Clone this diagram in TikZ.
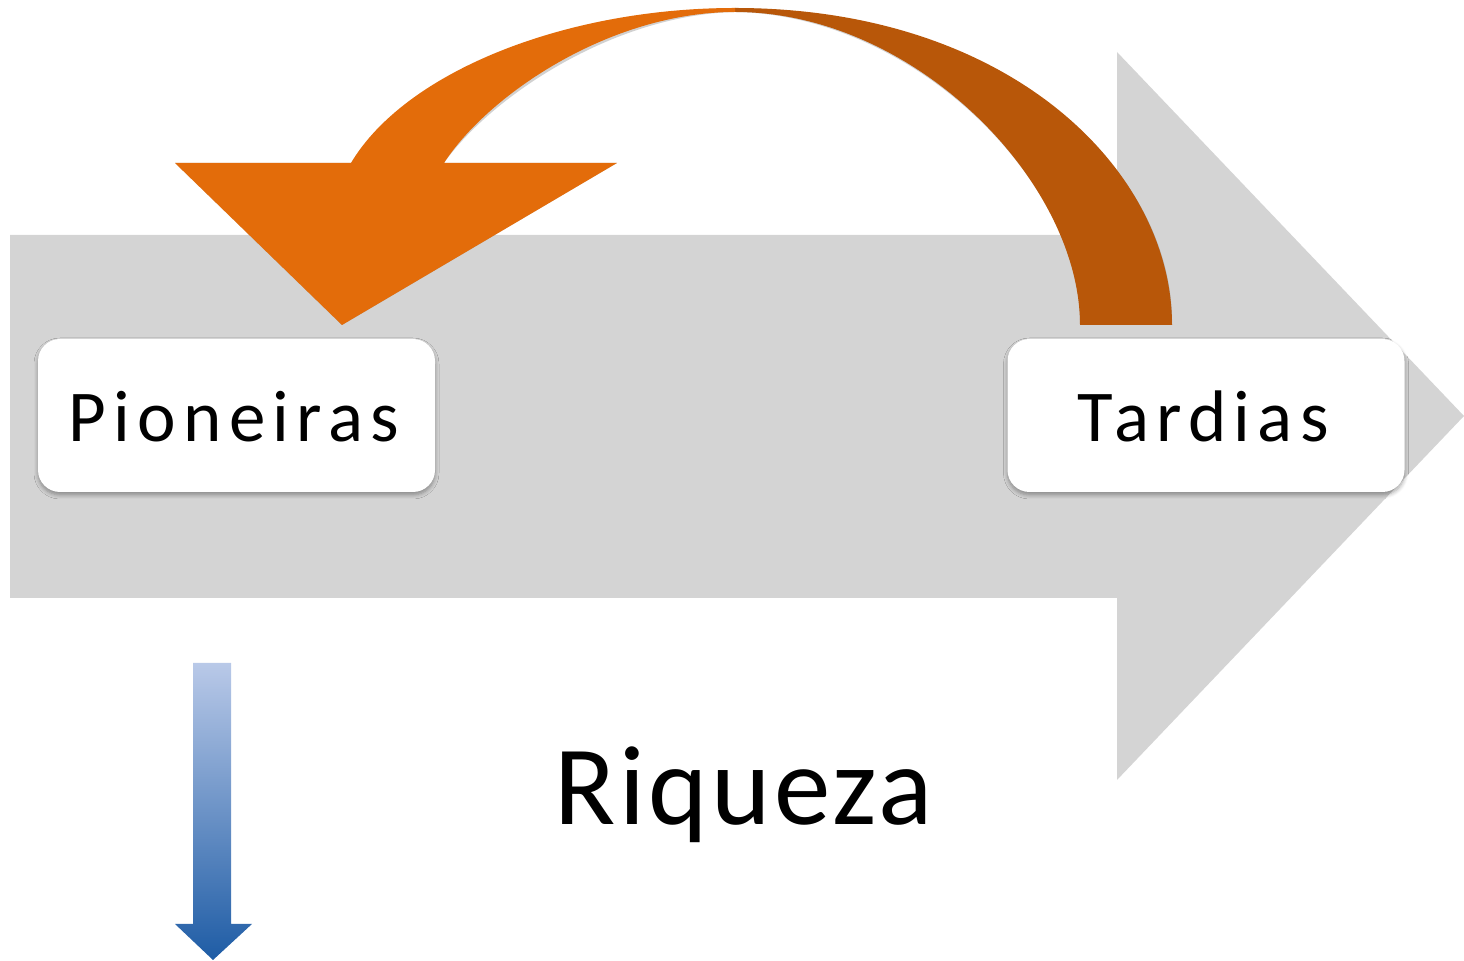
\documentclass[tikz,border=0pt]{standalone}
\usepackage{fontspec}
\setmainfont{Carlito}
\newfontfamily\boxfont[LetterSpace=10]{Carlito}
\newfontfamily\bigfont[LetterSpace=3]{Carlito}
\usetikzlibrary{shadows.blur}
\definecolor{graybg}{HTML}{D4D4D4}
\definecolor{orangeL}{HTML}{E36C0A}
\definecolor{orangeD}{HTML}{B85709}
\definecolor{blueT}{RGB}{185,201,232}
\definecolor{blueB}{RGB}{30,92,165}
\tikzset{
  box/.style={draw=none, fill=white, rounded corners=11pt, minimum width=198.5pt, minimum height=76.5pt,
    blur shadow={shadow xshift=0pt, shadow yshift=-1.5pt, shadow blur radius=2pt, shadow blur steps=6, shadow opacity=35}},
  lbl/.style={anchor=base, font=\boxfont\fontsize{36.5pt}{40pt}\selectfont, inner sep=0pt},
  big/.style={anchor=base, font=\bigfont\fontsize{56.5pt}{60pt}\selectfont, inner sep=0pt},
  shad/.style={fill=black, opacity=0.18}
}
\begin{document}
\begin{tikzpicture}[x=0.5pt,y=-0.5pt]
\useasboundingbox (0,0) rectangle (1464,961);
% big gray arrow
\fill[graybg] (10,235) -- (1117,235) -- (1117,52) -- (1464,416) -- (1117,780) -- (1117,598) -- (10,598) -- cycle;
% boxes
\node[box] (pio) at (236.5,415.5) {};
\node[box] (tar) at (1206,415.5) {};
\node[lbl] (piot) at (234,442) {Pioneiras};
\node[lbl] (tart) at (1203,442) {Tardias};
% curved arrow coordinates
\coordinate (rb1) at (1172,325);
\coordinate (rb2) at (1080,325);
\coordinate (topo) at (735,8);
\coordinate (topi) at (735,12);
\coordinate (lo) at (351,163);
\coordinate (li) at (444,163);
\coordinate (hl) at (175,163);
\coordinate (hr) at (617,163);
\coordinate (tip) at (342,325);
% shadows
\begin{scope}[shift={(2,3)}]
\fill[shad] (rb2) .. controls (1080,182) and (915,12) .. (topi) -- (topo) .. controls (1010,8) and (1172,170) .. (rb1) -- cycle;
\fill[shad] (hl) -- (lo) .. controls (405,72) and (565,8) .. (topo) -- (topi) .. controls (610,12) and (488,95) .. (li) -- (hr) -- (tip) -- cycle;
\end{scope}
% dark right half
\fill[orangeD] (rb2) .. controls (1080,182) and (915,12) .. (topi) -- (topo) .. controls (1010,8) and (1172,170) .. (rb1) -- cycle;
% light left half with head
\fill[orangeL] (hl) -- (lo) .. controls (405,72) and (565,8) .. (topo) -- (topi) .. controls (610,12) and (488,95) .. (li) -- (hr) -- (tip) -- cycle;
% blue arrow
\shade[top color=blueT, bottom color=blueB] (193,663) -- (231,663) -- (231,924) -- (252,924) -- (213,960) -- (175,924) -- (193,924) -- cycle;
% Riqueza
\node[big] (riq) at (744,825) {Riqueza};
\end{tikzpicture}
\end{document}
